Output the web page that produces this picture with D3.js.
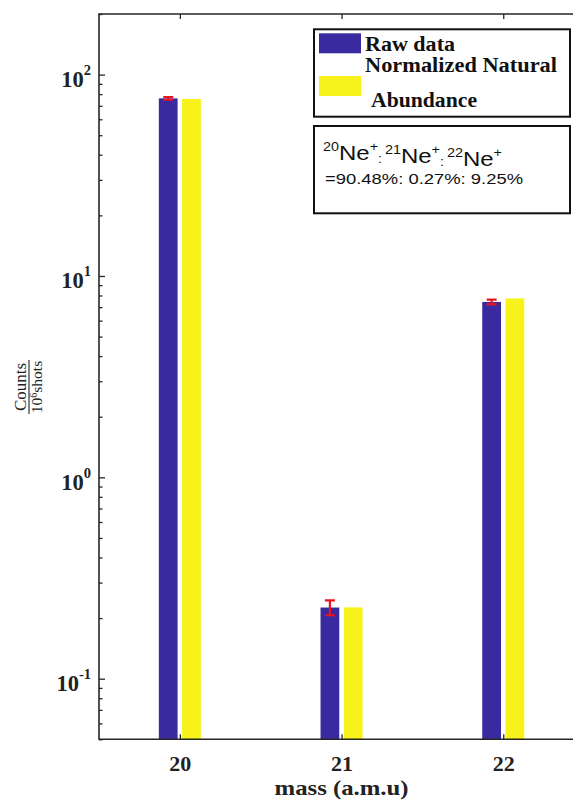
<!DOCTYPE html>
<html><head><meta charset="utf-8">
<script src="https://cdn.jsdelivr.net/npm/d3@7"></script>
<style>body{margin:0;background:#fff;} svg{display:block;}</style>
</head><body>
<script>
// ---- data ----
const masses = [20, 21, 22];
const massLabels = ["20", "21", "22"];
const rawData = [76.2, 0.2256, 7.43];
const rawError = [1.2, 0.019, 0.2];
const naturalAbundance = [75.7, 0.226, 7.74];
const yMajorTicks = [0.1, 1, 10, 100];
const yTickExponents = ["-1", "0", "1", "2"];
const legendLabels = ["Raw data", "Normalized Natural", "Abundance"];
const ratioIsotopes = ["20", "21", "22"];
const ratioText = "=90.48%: 0.27%: 9.25%";
const xLabel = "mass (a.m.u)";

// ---- setup ----
const W = 573, H = 801;
const blue = "#3a2a9f", yellow = "#f7f31a", red = "#e8141e", ink = "#262626";
const serif = "'Liberation Serif', 'Times New Roman', serif";
const sans = "'Liberation Sans', Arial, sans-serif";

const svg = d3.select("body").append("svg").attr("width", W).attr("height", H);
const x = d3.scaleLinear().domain([19.5, 22.5]).range([99, 584.1]);
const y = d3.scaleLog().domain([0.05, 200]).range([739.3, 14]);
const [x0, x1] = x.range();
const [yb, yt] = y.range();

svg.append("clipPath").attr("id", "plot").append("rect")
  .attr("x", x0).attr("y", yt).attr("width", x1 - x0).attr("height", yb - yt);

const barOff = 0.072, barW = 0.116;
const bw = x(20 + barW) - x(20);
const g = svg.append("g").attr("clip-path", "url(#plot)");

g.selectAll("rect.raw").data(masses).join("rect").attr("class", "raw")
  .attr("x", (m) => x(m - barOff) - bw / 2)
  .attr("width", bw)
  .attr("y", (m, i) => y(rawData[i]))
  .attr("height", (m, i) => yb - y(rawData[i]))
  .attr("fill", blue);

g.selectAll("rect.nat").data(masses).join("rect").attr("class", "nat")
  .attr("x", (m) => x(m + barOff) - bw / 2)
  .attr("width", bw)
  .attr("y", (m, i) => y(naturalAbundance[i]))
  .attr("height", (m, i) => yb - y(naturalAbundance[i]))
  .attr("fill", yellow);

// error bars
const eb = g.selectAll("g.err").data(masses).join("g").attr("class", "err")
  .attr("stroke", red).attr("stroke-width", 2.2);
eb.append("line")
  .attr("x1", (m) => x(m - barOff)).attr("x2", (m) => x(m - barOff))
  .attr("y1", (m, i) => y(rawData[i] - rawError[i]))
  .attr("y2", (m, i) => y(rawData[i] + rawError[i]));
[-1, 1].forEach((s) => {
  eb.append("line")
    .attr("x1", (m) => x(m - barOff) - 5).attr("x2", (m) => x(m - barOff) + 5)
    .attr("y1", (m, i) => y(rawData[i] + s * rawError[i]))
    .attr("y2", (m, i) => y(rawData[i] + s * rawError[i]));
});

// ---- axes ----
svg.append("path")
  .attr("d", `M${x1},${yt}H${x0}V${yb}H${x1}V${yt}`)
  .attr("fill", "none").attr("stroke", ink).attr("stroke-width", 1.6);

const xAxis = svg.append("g").attr("transform", `translate(0,${yb})`)
  .call(d3.axisBottom(x).tickValues(masses).tickFormat((d, i) => massLabels[i])
    .tickSizeInner(-5).tickSizeOuter(0).tickPadding(16));
xAxis.select(".domain").remove();
xAxis.selectAll(".tick line").attr("stroke", ink).attr("stroke-width", 1.3);
xAxis.selectAll(".tick text").attr("font-family", serif).attr("font-weight", "bold")
  .attr("font-size", 22).attr("fill", "#222");

const xTop = svg.append("g").attr("transform", `translate(0,${yt})`)
  .call(d3.axisTop(x).tickValues(masses).tickFormat("").tickSizeInner(-5).tickSizeOuter(0));
xTop.select(".domain").remove();
xTop.selectAll(".tick line").attr("stroke", ink).attr("stroke-width", 1.3);

const minorTicks = y.ticks().filter((v) => !yMajorTicks.some((t) => Math.abs(t - v) < 1e-9));
const yMinor = svg.append("g").attr("transform", `translate(${x0},0)`)
  .call(d3.axisLeft(y).tickValues(minorTicks).tickFormat("").tickSizeInner(-3.5).tickSizeOuter(0));
yMinor.select(".domain").remove();
yMinor.selectAll(".tick line").attr("stroke", ink).attr("stroke-width", 1.3);

const yMajor = svg.append("g").attr("transform", `translate(${x0},0)`)
  .call(d3.axisLeft(y).tickValues(yMajorTicks).tickFormat("").tickSizeInner(-6).tickSizeOuter(0));
yMajor.select(".domain").remove();
yMajor.selectAll(".tick line").attr("stroke", ink).attr("stroke-width", 1.3);
yMajor.selectAll(".tick").each(function (d, i) {
  const t = d3.select(this).append("text")
    .attr("x", -8).attr("y", 12).attr("text-anchor", "end")
    .attr("font-family", serif).attr("font-weight", "bold").attr("fill", "#222");
  t.append("tspan").attr("font-size", 22.5).text("10");
  t.append("tspan").attr("font-size", 14.5).attr("dy", -12).text(yTickExponents[i]);
});

// x label
svg.append("text").attr("x", x(21)).attr("y", 795).attr("text-anchor", "middle")
  .attr("font-family", serif).attr("font-weight", "bold").attr("font-size", 22)
  .attr("fill", "#222").attr("textLength", 134).attr("lengthAdjust", "spacingAndGlyphs")
  .text(xLabel);

// y label (fraction)
const yl = svg.append("g").attr("transform", "translate(29,387) rotate(-90)")
  .attr("font-family", serif).attr("fill", "#222");
yl.append("text").attr("x", 0).attr("y", -3).attr("text-anchor", "middle")
  .attr("font-size", 17).text("Counts");
yl.append("line").attr("x1", -27).attr("x2", 27).attr("y1", 0).attr("y2", 0)
  .attr("stroke", "#222").attr("stroke-width", 1.1);
const den = yl.append("text").attr("x", 0).attr("y", 12.5).attr("text-anchor", "middle")
  .attr("font-size", 15.5);
den.append("tspan").text("10");
den.append("tspan").attr("font-size", 10).attr("dy", -5).text("6");
den.append("tspan").attr("dy", 5).text("shots");

// ---- legend ----
const lg = svg.append("g");
lg.append("rect").attr("x", 314).attr("y", 29.3).attr("width", 256).attr("height", 87.4)
  .attr("fill", "#fff").attr("stroke", "#111").attr("stroke-width", 2);
lg.append("rect").attr("x", 319).attr("y", 33.3).attr("width", 42).attr("height", 20).attr("fill", blue);
lg.append("rect").attr("x", 319).attr("y", 76).attr("width", 42).attr("height", 20).attr("fill", yellow);
const legPos = [[365, 50.7, 90], [365, 71.7, 192], [371, 107.3, 106]];
legendLabels.forEach((s, i) => {
  lg.append("text").attr("x", legPos[i][0]).attr("y", legPos[i][1])
    .attr("font-family", serif).attr("font-weight", "bold").attr("font-size", 20)
    .attr("fill", "#111").attr("textLength", legPos[i][2]).attr("lengthAdjust", "spacingAndGlyphs")
    .text(s);
});

// ratio box
const rb = svg.append("g");
rb.append("rect").attr("x", 314).attr("y", 126).attr("width", 256).attr("height", 87.3)
  .attr("fill", "#fff").attr("stroke", "#111").attr("stroke-width", 2);
const r1 = rb.append("text").attr("x", 323).attr("y", 160)
  .attr("font-family", sans).attr("fill", "#111")
  .attr("textLength", 179).attr("lengthAdjust", "spacingAndGlyphs");
ratioIsotopes.forEach((iso, i) => {
  r1.append("tspan").attr("font-size", 12).attr("dy", -9).text(iso);
  r1.append("tspan").attr("font-size", 20).attr("dy", 9).text("Ne");
  r1.append("tspan").attr("font-size", 12).attr("dy", -9).text("+");
  if (i < ratioIsotopes.length - 1) {
    r1.append("tspan").attr("font-size", 12).attr("dy", 12).text(":\u2009");
    r1.append("tspan").attr("font-size", 12).attr("dy", -3).text("");
  }
});
rb.append("text").attr("x", 325).attr("y", 184)
  .attr("font-family", sans).attr("font-size", 15.5).attr("fill", "#111")
  .attr("textLength", 198).attr("lengthAdjust", "spacingAndGlyphs")
  .text(ratioText);
</script>
</body></html>
